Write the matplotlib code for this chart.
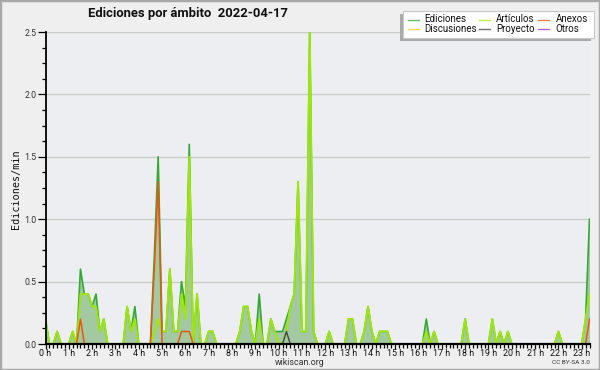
import matplotlib
matplotlib.use("Agg")
import matplotlib.pyplot as plt
from matplotlib.patches import Rectangle
from matplotlib.lines import Line2D
from matplotlib.ticker import MultipleLocator
import numpy as np

title = "Ediciones por ámbito  2022-04-17"
ylabel = "Ediciones/min"
hour_labels = [f"{h} h" for h in range(24)]
legend_rows = [["Ediciones", "Artículos", "Anexos"],
               ["Discusiones", "Proyecto", "Otros"]]
legend_colors = [["#33aa33", "#a6e80a", "#ee5511"],
                 ["#ffcc22", "#444444", "#8833ee"]]

# one value every 10 minutes, six per hour
ediciones = [
    0.2, 0, 0, 0.1, 0, 0,
    0, 0.1, 0, 0.6, 0.4, 0.4,
    0.3, 0.4, 0.1, 0.2, 0, 0,
    0, 0, 0, 0.3, 0.1, 0.3,
    0, 0, 0, 0, 0.7, 1.5,
    0.1, 0.1, 0.6, 0.1, 0.1, 0.5,
    0.3, 1.6, 0, 0.4, 0, 0,
    0.1, 0.1, 0, 0, 0, 0,
    0, 0, 0.1, 0.3, 0.3, 0.1,
    0, 0.4, 0, 0, 0.2, 0.1,
    0.1, 0.1, 0.2, 0.3, 0.4, 1.3,
    0.1, 0.1, 2.5, 0.1, 0, 0,
    0, 0.1, 0, 0, 0, 0,
    0.2, 0.2, 0, 0, 0.1, 0.3,
    0.1, 0, 0.1, 0.1, 0.1, 0,
    0, 0, 0, 0, 0, 0,
    0, 0, 0.2, 0, 0.1, 0,
    0, 0, 0, 0, 0, 0,
    0.2, 0, 0, 0, 0, 0,
    0, 0.2, 0, 0.1, 0, 0.1,
    0, 0, 0, 0, 0, 0,
    0, 0, 0, 0, 0, 0,
    0.1, 0, 0, 0, 0, 0,
    0, 0.2, 1.0,
]

articulos = [
    0.2, 0, 0, 0.1, 0, 0,
    0, 0.1, 0, 0.4, 0.4, 0.4,
    0.3, 0.3, 0.1, 0.2, 0, 0,
    0, 0, 0, 0.3, 0.1, 0.2,
    0, 0, 0, 0, 0.1, 0.2,
    0.1, 0.1, 0.6, 0.1, 0.1, 0.4,
    0.2, 1.5, 0, 0.4, 0, 0,
    0.1, 0.1, 0, 0, 0, 0,
    0, 0, 0.1, 0.3, 0.3, 0.1,
    0, 0.2, 0, 0, 0.2, 0.1,
    0, 0, 0.1, 0.3, 0.4, 1.3,
    0.1, 0.1, 2.5, 0.1, 0, 0,
    0, 0.1, 0, 0, 0, 0,
    0.2, 0.2, 0, 0, 0.1, 0.3,
    0.1, 0, 0.1, 0.1, 0.1, 0,
    0, 0, 0, 0, 0, 0,
    0, 0, 0.1, 0, 0.1, 0,
    0, 0, 0, 0, 0, 0,
    0.2, 0, 0, 0, 0, 0,
    0, 0.2, 0, 0.1, 0, 0.1,
    0, 0, 0, 0, 0, 0,
    0, 0, 0, 0, 0, 0,
    0.1, 0, 0, 0, 0, 0,
    0, 0.2, 0.4,
]

anexos = [
    0, 0, 0, 0, 0, 0,
    0, 0, 0, 0.2, 0, 0,
    0, 0, 0, 0, 0, 0,
    0, 0, 0, 0, 0, 0,
    0, 0, 0, 0, 0.6, 1.3,
    0, 0, 0, 0, 0, 0.1,
    0.1, 0.1, 0, 0, 0, 0,
    0, 0, 0, 0, 0, 0,
    0, 0, 0, 0, 0, 0,
    0, 0, 0, 0, 0, 0,
    0, 0, 0, 0, 0, 0,
    0, 0, 0, 0, 0, 0,
    0, 0, 0, 0, 0, 0,
    0, 0, 0, 0, 0, 0,
    0, 0, 0, 0, 0, 0,
    0, 0, 0, 0, 0, 0,
    0, 0, 0, 0, 0, 0,
    0, 0, 0, 0, 0, 0,
    0, 0, 0, 0, 0, 0,
    0, 0, 0, 0, 0, 0,
    0, 0, 0, 0, 0, 0,
    0, 0, 0, 0, 0, 0,
    0, 0, 0, 0, 0, 0,
    0, 0, 0.2,
]

proyecto = [
    0, 0, 0, 0, 0, 0,
    0, 0, 0, 0, 0, 0,
    0, 0, 0, 0, 0, 0,
    0, 0, 0, 0, 0, 0,
    0, 0, 0, 0, 0, 0,
    0, 0, 0, 0, 0, 0,
    0, 0, 0, 0, 0, 0,
    0, 0, 0, 0, 0, 0,
    0, 0, 0, 0, 0, 0,
    0, 0, 0, 0, 0, 0,
    0, 0, 0.1, 0, 0, 0,
    0, 0, 0, 0, 0, 0,
    0, 0, 0, 0, 0, 0,
    0, 0, 0, 0, 0, 0,
    0, 0, 0, 0, 0, 0,
    0, 0, 0, 0, 0, 0,
    0, 0, 0, 0, 0, 0,
    0, 0, 0, 0, 0, 0,
    0, 0, 0, 0, 0, 0,
    0, 0, 0, 0, 0, 0,
    0, 0, 0, 0, 0, 0,
    0, 0, 0, 0, 0, 0,
    0, 0, 0, 0, 0, 0,
    0, 0, 0,
]

W, H = 600, 370
FONT = "Roboto"


def fx(px):
    return px / W


def fy(py):
    return 1 - py / H


x = np.arange(len(ediciones)) / 6.0

fig = plt.figure(figsize=(6, 3.7), dpi=100, facecolor="#efefef")
ax = fig.add_axes([fx(45.5), fy(344), fx(589.5) - fx(45.5), fy(32) - fy(344)])
ax.set_facecolor("#eceef1")

ax.fill_between(x, ediciones, 0, color="#a2c9a2", lw=0, zorder=2)
ax.plot(x, ediciones, color="#33aa33", lw=1.2, zorder=3)
ax.plot(x, articulos, color="#9fe60a", lw=1.4, zorder=4)
ax.plot(x, anexos, color="#ee5511", lw=1.1, zorder=5)
ax.plot(x, proyecto, color="#444444", lw=1.0, zorder=5)

ax.set_xlim(0, x[-1])
ax.set_ylim(0, 2.5)

ax.set_yticks(np.arange(0, 2.51, 0.5))
ax.set_yticklabels([f"{v:.1f}" for v in np.arange(0, 2.51, 0.5)],
                   family=FONT)
ax.yaxis.set_minor_locator(MultipleLocator(0.125))
ax.set_xticks(np.arange(24))
ax.set_xticklabels(hour_labels, family=FONT)
ax.xaxis.set_minor_locator(MultipleLocator(1 / 6))

ax.tick_params(axis="x", which="major", length=3.5, width=0.9, pad=0,
               labelsize=6.4, colors="#111111")
ax.tick_params(axis="x", which="minor", length=3, width=0.9)
ax.tick_params(axis="y", which="major", length=6, width=0.9, pad=0.5,
               labelsize=6.3, labelcolor="#333333")
ax.tick_params(axis="y", which="minor", length=3, width=0.9)

ax.grid(axis="y", which="major", color="#cccccc", lw=1, zorder=1)
ax.set_axisbelow(True)
for s in ("top", "right"):
    ax.spines[s].set_visible(False)
ax.spines["left"].set_linewidth(1.3)
ax.spines["bottom"].set_linewidth(1.6)
ax.spines["left"].set_zorder(6)
ax.spines["bottom"].set_zorder(6)

fig.text(fx(188), fy(14), title, ha="center", va="center", family=FONT,
         fontsize=9.4, fontweight="bold", color="#111111")
fig.text(fx(16), fy(189), ylabel, rotation=90, ha="center", va="center",
         fontsize=7.3, family="DejaVu Sans Mono", color="#111111")
fig.text(fx(300), fy(362.5), "wikiscan.org", ha="center", va="center",
         fontsize=6.4, family=FONT, color="#333333")
fig.text(fx(590), fy(362), "CC BY-SA 3.0", ha="right", va="center",
         fontsize=4.6, family=FONT, color="#333333")

# legend box with shadow
fig.patches.append(Rectangle((fx(400), fy(41)), fx(591) - fx(400), fy(14) - fy(41),
                             transform=fig.transFigure, facecolor="#aaaaaa",
                             edgecolor="none", zorder=10))
fig.patches.append(Rectangle((fx(403), fy(38)), fx(594) - fx(403), fy(11) - fy(38),
                             transform=fig.transFigure, facecolor="#ffffff",
                             edgecolor="#c8c8c8", lw=0.8, zorder=11))
col_line = [(408, 419), (479, 490), (538, 549)]
col_text = [424, 496, 555.5]
row_y = [19.5, 29]
for r in range(2):
    for c in range(3):
        x0, x1 = col_line[c]
        fig.lines.append(Line2D([fx(x0), fx(x1)], [fy(row_y[r]), fy(row_y[r])],
                                transform=fig.transFigure, color=legend_colors[r][c],
                                lw=1.0, zorder=12, alpha=0.75))
        fig.text(fx(col_text[c]), fy(row_y[r]), legend_rows[r][c], ha="left",
                 va="center", fontsize=7.0, family=FONT, color="#111111", zorder=12)

# outer border
fig.patches.append(Rectangle((0, 0), 1, 1, transform=fig.transFigure, fill=False,
                             edgecolor="#a8a8a8", lw=2.5, zorder=20))

fig.savefig("out.png", dpi=100, facecolor=fig.get_facecolor())
